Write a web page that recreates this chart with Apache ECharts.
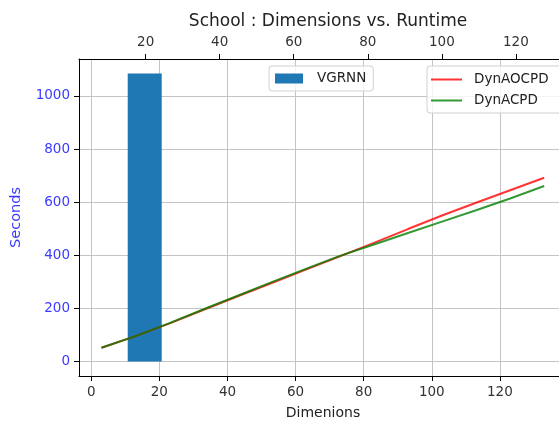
<!DOCTYPE html>
<html>
<head>
<meta charset="utf-8">
<script src="https://cdn.jsdelivr.net/npm/echarts@6/dist/echarts.min.js"></script>
<style>html,body{margin:0;padding:0;background:#fff}#c{width:559px;height:421px}</style>
</head>
<body>
<div id="c"></div>
<script>
// Data
const lineDims = [3, 13, 23, 33, 43, 53, 63, 73, 83, 93, 103, 113, 123, 133];
const dynAOCPD = [52, 96, 144, 195, 246, 296, 346, 396, 447, 499, 550, 598, 645, 692];
const dynACPD  = [52, 96, 145, 197, 248, 299, 349, 398, 441, 484, 527, 570, 614, 661];
const vgrnnDims = [19.75];
const vgrnnTimes = [1085];
const bottomTicks = [0, 20, 40, 60, 80, 100, 120];
const topTicks = [20, 40, 60, 80, 100, 120];
const yTicks = [0, 200, 400, 600, 800, 1000];

const FONT = 'DejaVu Sans';
const chart = echarts.init(document.getElementById('c'), null, {renderer: 'canvas'});
const zip = (a, b) => a.map((v, i) => [v, b[i]]);
const plain = v => String(v);

chart.setOption({
  animation: false,
  backgroundColor: '#fff',
  textStyle: {fontFamily: FONT},
  title: {
    text: 'School : Dimensions vs. Runtime',
    left: 323, textAlign: 'center', top: 8,
    textStyle: {fontFamily: FONT, fontSize: 17, fontWeight: 'normal', color: '#222'}
  },
  grid: {left: 79, top: 59, width: 488, height: 317, containLabel: false, outerBoundsMode: 'none', show: false},
  xAxis: [{
    type: 'value', position: 'bottom', min: -3.6, max: 139.7,
    name: 'Dimenions', nameLocation: 'middle', nameGap: 30,
    nameTextStyle: {fontFamily: FONT, fontSize: 14, color: '#222'},
    axisLine: {show: true, onZero: false, lineStyle: {color: '#000', width: 1}},
    axisTick: {show: true, inside: false, length: 5, lineStyle: {color: '#000'}, customValues: bottomTicks},
    axisLabel: {fontFamily: FONT, fontSize: 13.5, color: '#333', margin: 9, customValues: bottomTicks, formatter: plain},
    splitLine: {show: true, lineStyle: {color: '#c4c4c4', width: 1}}
  }, {
    type: 'value', position: 'top', min: 2.0, max: 133.8,
    axisLine: {show: true, onZero: false, lineStyle: {color: '#000', width: 1}},
    axisTick: {show: true, inside: false, length: 5, lineStyle: {color: '#000'}, customValues: topTicks},
    axisLabel: {fontFamily: FONT, fontSize: 13.5, color: '#333', margin: 10, customValues: topTicks, formatter: plain},
    splitLine: {show: false}
  }],
  yAxis: [{
    type: 'value', min: -54.25, max: 1139.25,
    name: 'Seconds', nameLocation: 'middle', nameGap: 55, nameRotate: 90,
    nameTextStyle: {fontFamily: FONT, fontSize: 14.5, color: '#3a3aff'},
    axisLine: {show: true, onZero: false, lineStyle: {color: '#000', width: 1}},
    axisTick: {show: true, inside: false, length: 5, lineStyle: {color: '#000'}, customValues: yTicks},
    axisLabel: {fontFamily: FONT, fontSize: 13.5, color: '#3a3aff', margin: 9, customValues: yTicks, formatter: plain},
    splitLine: {show: true, lineStyle: {color: '#c4c4c4', width: 1}}
  }, {
    type: 'value', min: -54.25, max: 1139.25, position: 'right',
    axisLine: {show: true, onZero: false, lineStyle: {color: '#000'}},
    axisTick: {show: false}, axisLabel: {show: false}, splitLine: {show: false}
  }],
  legend: [{
    data: [{name: 'VGRNN', icon: 'rect'}],
    left: 269, top: 66, orient: 'vertical',
    padding: [5, 7, 5, 6], itemWidth: 28, itemHeight: 10,
    backgroundColor: 'rgba(255,255,255,0.8)', borderColor: '#d0d0d0', borderWidth: 1, borderRadius: 3,
    textStyle: {fontFamily: FONT, fontSize: 13.5, color: '#222', padding: [0, 0, 0, 9], lineHeight: 15}
  }, {
    data: [{name: 'DynAOCPD', icon: 'rect'}, {name: 'DynACPD', icon: 'rect'}],
    left: 427, top: 66, orient: 'vertical',
    padding: [6, 20, 5, 4], itemWidth: 31, itemHeight: 2, itemGap: 6,
    backgroundColor: 'rgba(255,255,255,0.8)', borderColor: '#d0d0d0', borderWidth: 1, borderRadius: 3,
    textStyle: {fontFamily: FONT, fontSize: 13.5, color: '#222', padding: [0, 0, 0, 7], lineHeight: 15}
  }],
  series: [{
    name: 'VGRNN', type: 'bar', xAxisIndex: 1, yAxisIndex: 0,
    data: zip(vgrnnDims, vgrnnTimes), barWidth: 34,
    itemStyle: {color: '#1f77b4'}, z: 3
  }, {
    name: 'DynAOCPD', type: 'line', xAxisIndex: 0, yAxisIndex: 0,
    data: zip(lineDims, dynAOCPD), showSymbol: false, symbol: 'none',
    lineStyle: {color: 'rgba(255,0,0,0.8)', width: 2}, itemStyle: {color: 'rgba(255,0,0,0.8)'}, z: 4
  }, {
    name: 'DynACPD', type: 'line', xAxisIndex: 0, yAxisIndex: 0,
    data: zip(lineDims, dynACPD), showSymbol: false, symbol: 'none',
    lineStyle: {color: 'rgba(0,128,0,0.8)', width: 2}, itemStyle: {color: 'rgba(0,128,0,0.8)'}, z: 5
  }]
});
</script>
</body>
</html>
